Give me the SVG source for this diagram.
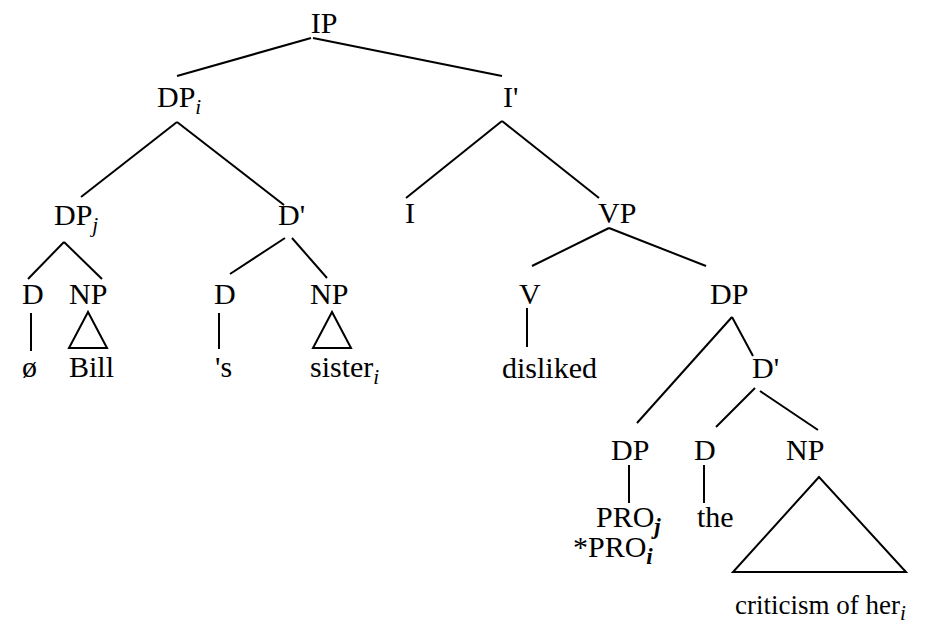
<svg xmlns="http://www.w3.org/2000/svg" width="947" height="625" viewBox="0 0 947 625">
<style>
text{font-family:"Liberation Serif","Times New Roman",serif;font-size:30px;fill:#000}
.sub{font-size:21px;font-style:italic}
.bsub{font-size:23px;font-style:italic;font-weight:bold}
.e{stroke:#000;stroke-width:2;fill:none;stroke-linecap:butt}
</style>
<rect width="947" height="625" fill="#fff"/>
<g id="connectors" class="e">
<line x1="311" y1="38" x2="177" y2="76"/>
<line x1="313" y1="38" x2="502" y2="76"/>
<line x1="177" y1="122" x2="81" y2="197"/>
<line x1="177" y1="122" x2="284" y2="205"/>
<line x1="502" y1="121" x2="406" y2="198"/>
<line x1="502" y1="121" x2="599" y2="198"/>
<line x1="64" y1="242" x2="28" y2="279"/>
<line x1="64" y1="242" x2="102" y2="279"/>
<line x1="285" y1="238" x2="230" y2="274"/>
<line x1="292" y1="238" x2="327" y2="278"/>
<line x1="609" y1="228" x2="532" y2="266"/>
<line x1="609" y1="228" x2="706" y2="266"/>
<line x1="31" y1="313" x2="31" y2="351"/>
<line x1="219" y1="313" x2="219" y2="349"/>
<line x1="527" y1="308" x2="527" y2="347"/>
<line x1="732" y1="317" x2="637" y2="423"/>
<line x1="732" y1="317" x2="753" y2="356"/>
<line x1="755" y1="388" x2="716" y2="427"/>
<line x1="760" y1="391" x2="818" y2="430"/>
<line x1="629" y1="465" x2="629" y2="503"/>
<line x1="704" y1="465" x2="704" y2="503"/>
<polygon points="88,312 69,348 107,348"/>
<polygon points="332,312 313,348 351,348"/>
<polygon points="819,477 733,572 906,572"/>
</g>
<g id="IP"><text x="324" y="33" text-anchor="middle">IP</text></g>
<g id="DPi"><text x="157" y="107">DP<tspan class="sub" dy="7">i</tspan></text></g>
<g id="Ibar"><text x="503" y="107">I'</text></g>
<g id="DPj"><text x="54" y="225">DP<tspan class="sub" dy="7">j</tspan></text></g>
<g id="Dbar1"><text x="278" y="225">D'</text></g>
<g id="I"><text x="405" y="223">I</text></g>
<g id="VP"><text x="598" y="223">VP</text></g>
<g id="D1"><text x="22" y="304">D</text></g>
<g id="NP1"><text x="69" y="304">NP</text></g>
<g id="null"><text x="22" y="377">ø</text></g>
<g id="Bill"><text x="69" y="377">Bill</text></g>
<g id="D2"><text x="214" y="304">D</text></g>
<g id="s"><text x="215" y="377">'s</text></g>
<g id="NP2"><text x="310" y="304">NP</text></g>
<g id="sister"><text x="310" y="377">sister<tspan class="sub" dy="7">i</tspan></text></g>
<g id="V"><text x="519" y="304">V</text></g>
<g id="disliked"><text x="502" y="378">disliked</text></g>
<g id="DP"><text x="710" y="304">DP</text></g>
<g id="Dbar2"><text x="752" y="378">D'</text></g>
<g id="DP2"><text x="611" y="460">DP</text></g>
<g id="D3"><text x="694" y="460">D</text></g>
<g id="NP3"><text x="786" y="460">NP</text></g>
<g id="PRO"><text x="596" y="527">PRO<tspan class="bsub" dy="7">j</tspan></text>
<text x="573" y="557">*PRO<tspan class="bsub" dy="7">i</tspan></text></g>
<g id="the"><text x="697" y="527">the</text></g>
<g id="criticism"><text x="735" y="614" style="font-size:27px">criticism of her<tspan class="sub" dy="6">i</tspan></text></g>
</svg>
